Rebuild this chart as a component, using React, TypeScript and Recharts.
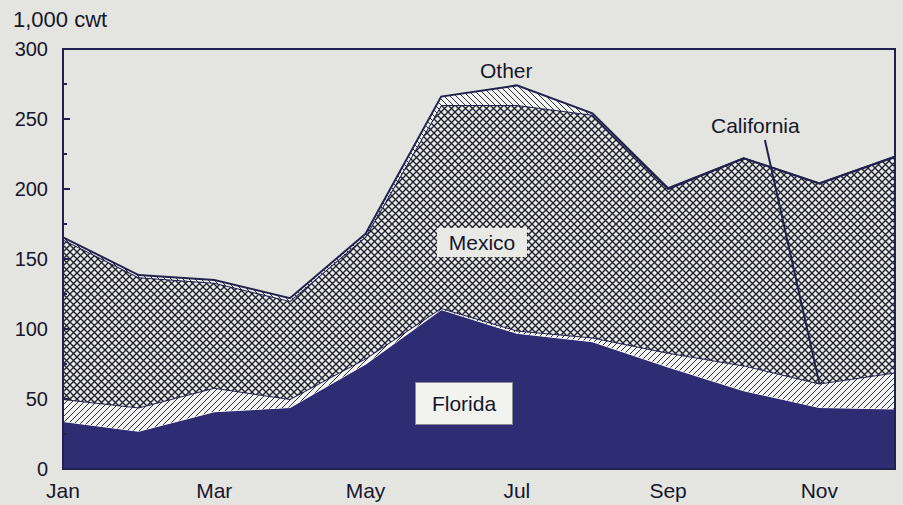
import React from 'react';
import { AreaChart, Area, XAxis, YAxis, ReferenceArea, ReferenceLine } from 'recharts';

// 1,000 cwt, monthly shipments by origin
const MONTHS = ['Jan', 'Feb', 'Mar', 'Apr', 'May', 'Jun', 'Jul', 'Aug', 'Sep', 'Oct', 'Nov', 'Dec'];
const FLORIDA = [34, 27, 41, 44, 75, 114, 97, 91, 73, 56, 44, 43];
const CALIFORNIA = [16, 17, 17, 6, 4, 1, 2, 3, 10, 18, 17, 26];
const MEXICO = [114, 93, 75, 70, 87, 145, 161, 159, 117, 148, 143, 154];
const OTHER = [1.5, 1.5, 2, 2, 2, 6, 14, 1, 0.5, 0, 0, 0];

const X_TICKS = [0, 2, 4, 6, 8, 10];
const Y_TICKS = [0, 25, 50, 75, 100, 125, 150, 175, 200, 225, 250, 275, 300];

// leader from the "California" label down to the Nov point
const CAL_LEADER = [{ x: 9.28, y: 235 }, { x: 10, y: 61 }];

const data = MONTHS.map((name, i) => ({
  m: i,
  name,
  florida: FLORIDA[i],
  california: CALIFORNIA[i],
  mexico: MEXICO[i],
  other: OTHER[i],
}));

const BG = '#e4e5e1';
const NAVY = '#2e2c72';
const INK = '#23224e';
const TEXT = '#16162a';
const FONT = '"Liberation Sans", Arial, Helvetica, sans-serif';
const PLOT_LEFT = 63;

const YTick = (props: any) => {
  const { y, payload } = props;
  const v = payload.value as number;
  const major = v % 50 === 0;
  return (
    <g>
      <line x1={PLOT_LEFT} x2={PLOT_LEFT + (major ? 7 : 4)} y1={y} y2={y} stroke={INK} strokeWidth={2} />
      {major && (
        <text x={48} y={y} dy={7} textAnchor="end" fill={TEXT} fontSize={20} fontFamily={FONT}>
          {v}
        </text>
      )}
    </g>
  );
};

const label: React.CSSProperties = {
  position: 'absolute',
  fontFamily: FONT,
  fontSize: 21,
  color: TEXT,
  lineHeight: '21px',
  whiteSpace: 'nowrap',
};

export default function App() {
  return (
    <div style={{ position: 'absolute', left: 0, top: 0, width: 903, height: 505, background: BG, overflow: 'hidden' }}>
      <AreaChart width={903} height={505} data={data} margin={{ top: 49, right: 8, bottom: 0, left: 0 }}>
        <defs>
          <pattern id="cross" width={7} height={7} patternUnits="userSpaceOnUse">
            <rect width={7} height={7} fill="#e9eae7" />
            <path d="M0,0 L7,7 M7,0 L0,7" stroke="#1f1f2e" strokeWidth={1.35} />
          </pattern>
          <pattern id="diag" width={6} height={6} patternUnits="userSpaceOnUse">
            <rect width={6} height={6} fill="#f3f3f1" />
            <path d="M0,6 L6,0 M-1,1 L1,-1 M5,7 L7,5" stroke="#2e2e3c" strokeWidth={1} />
          </pattern>
          <pattern id="back" width={6} height={6} patternUnits="userSpaceOnUse">
            <rect width={6} height={6} fill="#f3f3f1" />
            <path d="M0,0 L6,6 M5,-1 L7,1 M-1,5 L1,7" stroke="#2e2e3c" strokeWidth={1} />
          </pattern>
        </defs>
        <XAxis
          type="number"
          dataKey="m"
          domain={[0, 11]}
          ticks={X_TICKS}
          tickFormatter={(i: number) => MONTHS[i]}
          tickLine={false}
          tickMargin={8}
          height={36}
          axisLine={{ stroke: INK, strokeWidth: 2 }}
          tick={{ fill: TEXT, fontSize: 21, fontFamily: FONT }}
        />
        <YAxis
          type="number"
          domain={[0, 300]}
          ticks={Y_TICKS}
          width={63}
          tickLine={false}
          interval={0}
          axisLine={{ stroke: INK, strokeWidth: 2 }}
          tick={<YTick />}
        />
        <Area type="linear" dataKey="florida" stackId="1" fill={NAVY} fillOpacity={1} stroke="#ffffff" strokeWidth={1.3} isAnimationActive={false} />
        <Area type="linear" dataKey="california" stackId="1" fill="url(#diag)" fillOpacity={1} stroke={INK} strokeWidth={2} isAnimationActive={false} />
        <Area type="linear" dataKey="mexico" stackId="1" fill="url(#cross)" fillOpacity={1} stroke={INK} strokeWidth={2} isAnimationActive={false} />
        <Area type="linear" dataKey="other" stackId="1" fill="url(#back)" fillOpacity={1} stroke={INK} strokeWidth={2} isAnimationActive={false} />
        <ReferenceLine segment={CAL_LEADER} stroke={INK} strokeWidth={2} ifOverflow="visible" />
        <ReferenceArea x1={0} x2={11} y1={0} y2={300} fill="none" stroke={INK} strokeWidth={2} />
      </AreaChart>

      <div style={{ ...label, fontSize: 22, left: 13, top: 9 }}>1,000 cwt</div>
      <div style={{ ...label, left: 480, top: 60 }}>Other</div>
      <div style={{ ...label, left: 711, top: 115 }}>California</div>
      <div style={{ ...label, left: 437, top: 228, width: 90, height: 29, background: '#e9e9e6', textAlign: 'center', lineHeight: '29px' }}>
        Mexico
      </div>
      <div
        style={{
          ...label,
          left: 415,
          top: 382,
          width: 96,
          height: 41,
          background: '#f2f2ef',
          border: '1px solid #8a8a96',
          textAlign: 'center',
          lineHeight: '41px',
        }}
      >
        Florida
      </div>
    </div>
  );
}
